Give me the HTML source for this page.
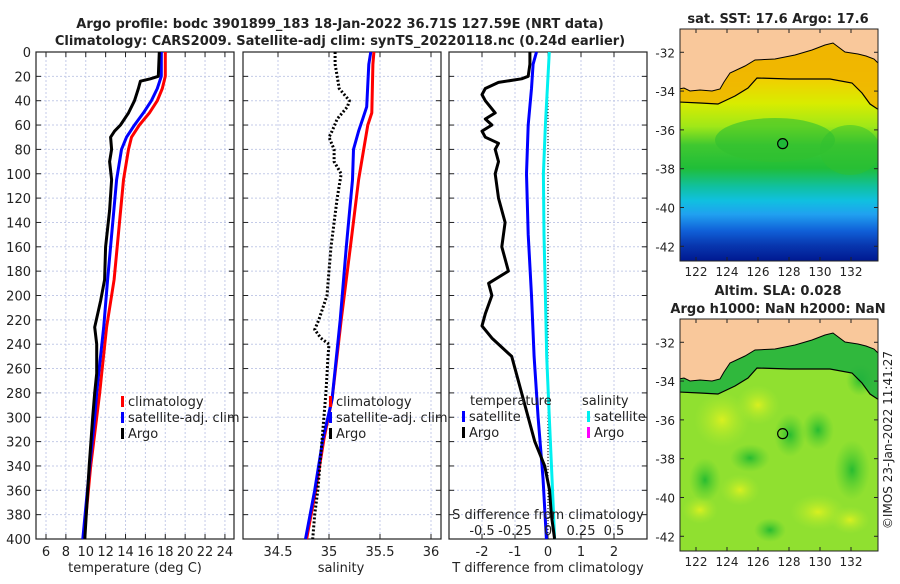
<!DOCTYPE html>
<html><head><meta charset="utf-8">
<style>
html,body{margin:0;padding:0;background:#fff;}
body{width:900px;height:580px;overflow:hidden;font-family:"DejaVu Sans","Liberation Sans",sans-serif;}
svg text{font-family:"DejaVu Sans","Liberation Sans",sans-serif;fill:#222;}
</style></head><body>
<svg id="fig" width="900" height="580" viewBox="0 0 900 580" xmlns="http://www.w3.org/2000/svg">
<defs>
<linearGradient id="sstGrad" x1="0" y1="0" x2="0" y2="1">
<stop offset="0" stop-color="#f2b200"/><stop offset="0.22" stop-color="#f0d000"/><stop offset="0.32" stop-color="#d8ec00"/>
<stop offset="0.42" stop-color="#a0e818"/><stop offset="0.5" stop-color="#40c830"/><stop offset="0.6" stop-color="#20be38"/>
<stop offset="0.68" stop-color="#10c0a0"/><stop offset="0.74" stop-color="#10c0e0"/><stop offset="0.8" stop-color="#20a0f0"/>
<stop offset="0.87" stop-color="#1060d8"/><stop offset="0.93" stop-color="#0838b0"/><stop offset="1" stop-color="#001890"/>
</linearGradient>
<radialGradient id="yb"><stop offset="0" stop-color="#d8f020"/><stop offset="1" stop-color="#a8e830" stop-opacity="0"/></radialGradient>
<radialGradient id="gb"><stop offset="0" stop-color="#28bc30"/><stop offset="1" stop-color="#50cc30" stop-opacity="0"/></radialGradient>
<clipPath id="m1c"><rect x="680" y="29" width="198" height="232"/></clipPath>
<clipPath id="m2c"><rect x="680" y="319" width="198" height="232"/></clipPath>
</defs>
<text x="340" y="28" text-anchor="middle" font-size="13" font-weight="bold">Argo profile: bodc 3901899_183 18-Jan-2022 36.71S 127.59E (NRT data)</text>
<text x="340" y="45" text-anchor="middle" font-size="13" font-weight="bold">Climatology: CARS2009. Satellite-adj clim: synTS_20220118.nc (0.24d earlier)</text>
<g id="p1"></g>
<g id="p2"></g>
<g id="p3"></g>
<g id="maps"></g>
<text transform="translate(892,440) rotate(-90)" text-anchor="middle" font-size="12">©IMOS 23-Jan-2022 11:41:27</text>
</svg>
<script>
// ---- data ----
const tClimDepth=[0,20,30,40,50,60,70,80,105,187,226,264,280,300,340,400];
const tClim=[18.0,18.0,17.7,17.2,16.4,15.4,14.6,14.3,13.8,12.85,12.1,11.6,11.4,11.1,10.5,9.8];
const tSatDepth=[0,20,30,40,50,60,70,80,105,187,226,264,280,300,340,400];
const tSat=[17.6,17.6,17.2,16.6,15.8,14.9,14.1,13.6,13.1,12.2,11.8,11.3,11.1,10.9,10.4,9.7];
const tArgoDepth=[0,10,20,22,24,30,40,50,60,65,70,80,90,105,130,160,187,204,215,226,240,264,280,300,340,400];
const tArgo=[17.4,17.35,17.3,16.5,15.5,15.3,14.9,14.3,13.5,12.9,12.5,12.6,12.4,12.6,12.4,12.0,11.9,11.5,11.2,10.9,11.1,11.1,10.9,10.7,10.35,9.9];
const sClimDepth=[0,10,50,60,80,105,160,220,285,318,360,400];
const sClim=[35.44,35.43,35.42,35.38,35.34,35.29,35.21,35.12,35.03,34.95,34.87,34.78];
const sSatDepth=[0,10,45,55,65,80,105,160,220,285,318,360,400];
const sSat=[35.41,35.39,35.37,35.33,35.29,35.24,35.23,35.17,35.11,35.03,34.94,34.86,34.77];
const sArgoDepth=[0,10,20,30,40,45,55,65,70,80,90,100,120,140,160,180,200,210,220,228,235,240,250,265,280,300,320,340,360,380,400];
const sArgo=[35.06,35.06,35.08,35.1,35.2,35.18,35.08,35.03,35.0,35.05,35.05,35.12,35.08,35.05,35.02,35.0,34.98,34.94,34.9,34.86,34.92,35.0,34.99,34.98,34.97,34.95,34.93,34.91,34.89,34.86,34.84];
const dTArgoDepth=[0,10,20,22,25,30,35,40,50,55,60,65,70,75,80,90,100,120,140,160,180,190,200,215,225,235,250,270,300,320,340,360,380,400];
const dTArgo=[-0.55,-0.55,-0.6,-0.8,-1.5,-1.9,-2.0,-1.9,-1.6,-1.9,-1.7,-2.0,-1.9,-1.5,-1.6,-1.5,-1.6,-1.5,-1.3,-1.4,-1.2,-1.8,-1.7,-1.9,-2.0,-1.7,-1.1,-0.9,-0.6,-0.4,-0.1,0.05,0.1,0.2];
const dTSatDepth=[0,10,30,60,100,150,200,250,300,350,400];
const dTSat=[-0.35,-0.45,-0.5,-0.6,-0.65,-0.6,-0.5,-0.42,-0.3,-0.15,-0.05];
const dSSatDepth=[0,20,60,100,150,200,250,300,350,400];
const dSSat=[0.01,0.0,-0.02,-0.035,-0.03,-0.02,-0.01,0.01,0.03,0.05];
const depthTicks=[0,20,40,60,80,100,120,140,160,180,200,220,240,260,280,300,320,340,360,380,400];
const tTicks=[6,8,10,12,14,16,18,20,22,24];
const sTicks=[34.5,35,35.5,36];
const dTTicks=[-2,-1,0,1,2];
const dSTicks=[-0.5,-0.25,0,0.25,0.5];
const dSTickLabels=["-0.5","-0.25","0","0.25","0.5"];
const latTicks=[-32,-34,-36,-38,-40,-42];
const lonTicks=[122,124,126,128,130,132];

const NS="http://www.w3.org/2000/svg";
function mk(tag,attrs,parent){const e=document.createElementNS(NS,tag);for(const k in attrs)e.setAttribute(k,attrs[k]);parent.appendChild(e);return e;}
const Y0=52,Y1=539;
const yD=d=>Y0+d*(Y1-Y0)/400;
function panel(g,x0,x1,xf,ticks,labels,showY){
  ticks.forEach(t=>{const l=mk('line',{x1:xf(t),x2:xf(t),y1:Y0,y2:Y1,stroke:'#c4cbe8','stroke-width':1,'stroke-dasharray':'2,2'},g);
    
    });
  depthTicks.forEach(d=>{const l=mk('line',{x1:x0,x2:x1,y1:yD(d),y2:yD(d),stroke:'#c4cbe8','stroke-width':1,'stroke-dasharray':'2,2'},g);
    
    
    mk('line',{x1:x0,x2:x0+5,y1:yD(d),y2:yD(d),stroke:'#222'},g);
    mk('line',{x1:x1,x2:x1-5,y1:yD(d),y2:yD(d),stroke:'#222'},g);
    if(showY){const t=mk('text',{x:x0-5,y:yD(d)+5,'text-anchor':'end','font-size':13},g);t.textContent=d;
      
      }
  });
  ticks.forEach((t,i)=>{mk('line',{x1:xf(t),x2:xf(t),y1:Y0,y2:Y0+5,stroke:'#222'},g);mk('line',{x1:xf(t),x2:xf(t),y1:Y1,y2:Y1-5,stroke:'#222'},g);
    if(labels){const tx=mk('text',{x:xf(t),y:Y1+17,'text-anchor':'middle','font-size':13},g);tx.textContent=labels[i];
      
      }});
  const b=mk('rect',{x:x0,y:Y0,width:x1-x0,height:Y1-Y0,fill:'none',stroke:'#222','stroke-width':1.2},g);
  
  
}
function line(g,xs,ds,xf,color,w,dash,name){
  const pts=xs.map((v,i)=>xf(v).toFixed(1)+','+yD(ds[i]).toFixed(1)).join(' ');
  const p=mk('polyline',{points:pts,fill:'none',stroke:color,'stroke-width':w,'stroke-linejoin':'round'},g);
  if(dash)p.setAttribute('stroke-dasharray',dash);
  
  
}
function legend(g,x,y,items){
  items.forEach((it,i)=>{
    if(it.c)mk('rect',{x:x,y:y+i*16-10,width:3,height:11,fill:it.c},g);
    const t=mk('text',{x:x+(it.c?7:0),y:y+i*16,'font-size':13},g);t.textContent=it.t;
    
    });
}
function axisTitle(g,x,y,s){const t=mk('text',{x:x,y:y,'text-anchor':'middle','font-size':13},g);t.textContent=s;
  
  }

// panel 1
const p1=document.getElementById('p1');
const xT=t=>46+(t-6)*9.94;
panel(p1,36,234,xT,tTicks,tTicks.map(String),true);
line(p1,tClim,tClimDepth,xT,'#ff0000',3,null,'temperature-climatology-line');
line(p1,tSat,tSatDepth,xT,'#0000ff',3,null,'temperature-satellite-line');
line(p1,tArgo,tArgoDepth,xT,'#000000',3,null,'temperature-argo-line');
legend(p1,121,406,[{c:'#ff0000',t:'climatology'},{c:'#0000ff',t:'satellite-adj. clim'},{c:'#000',t:'Argo'}]);
axisTitle(p1,135,572,'temperature (deg C)');

// panel 2
const p2=document.getElementById('p2');
const xS=s=>278+(s-34.5)*102;
panel(p2,243,441,xS,sTicks,sTicks.map(String),false);
line(p2,sClim,sClimDepth,xS,'#ff0000',3,null,'salinity-climatology-line');
line(p2,sSat,sSatDepth,xS,'#0000ff',3,null,'salinity-satellite-line');
line(p2,sArgo,sArgoDepth,xS,'#000000',3,'2,2','salinity-argo-line');
legend(p2,329,406,[{c:'#ff0000',t:'climatology'},{c:'#0000ff',t:'satellite-adj. clim'},{c:'#000',t:'Argo'}]);
axisTitle(p2,341,572,'salinity');

// panel 3
const p3=document.getElementById('p3');
const xDT=t=>548+t*33;
const xDS=s=>xDT(s*4);
panel(p3,449,647,xDT,dTTicks,dTTicks.map(String),false);
mk('line',{x1:xDT(0),x2:xDT(0),y1:Y0,y2:Y1,stroke:'#000','stroke-width':1,'stroke-dasharray':'1,2'},p3);
line(p3,dSSat,dSSatDepth,xDS,'#00f0f0',3,null,'salinity-diff-satellite-line');
line(p3,dTSat,dTSatDepth,xDT,'#0000ff',3,null,'temperature-diff-satellite-line');
line(p3,dTArgo,dTArgoDepth,xDT,'#000000',3,null,'temperature-diff-argo-line');
legend(p3,470,405,[{t:'temperature'}]);
legend(p3,462,421,[{c:'#0000ff',t:'satellite'},{c:'#000',t:'Argo'}]);
legend(p3,582,405,[{t:'salinity'}]);
legend(p3,587,421,[{c:'#00f0f0',t:'satellite'},{c:'#ff00ff',t:'Argo'}]);
{const t=mk('text',{x:548,y:519,'text-anchor':'middle','font-size':13},p3);t.textContent='S difference from climatology';
 
 }
dSTicks.forEach((s,i)=>{const t=mk('text',{x:xDS(s),y:535,'text-anchor':'middle','font-size':13},p3);t.textContent=dSTickLabels[i];
 
 });
axisTitle(p3,548,572,'T difference from climatology');

// maps
const mg=document.getElementById('maps');
const lonX=l=>696+(l-122)*15.5;
const coast=[[679,89],[684,88],[690,91],[700,90],[712,91],[720,89],[724,82],[730,73],[745,66],[755,60],[775,59],[795,55],[812,50],[825,45],[833,43],[845,52],[858,54],[866,56],[874,59],[878,63],[879,63]];
const iso=[[679,102],[700,103],[718,104],[735,96],[748,88],[757,78],[790,79],[830,79],[852,83],[862,93],[870,104],[879,110]];
function drawMap(off,top,bot,mainFill,bandFill,name,extra){
  const g=mk('g',{},mg);
  
  
  const cl=mk('g',{'clip-path':'url(#'+(off?'m2c':'m1c')+')'},g);
  mk('rect',{x:680,y:top,width:198,height:bot-top,fill:mainFill},cl);
  if(extra)extra(cl);
  const band='M'+coast.map(p=>p[0]+','+(p[1]+off)).join(' L')+' L'+iso.slice().reverse().map(p=>p[0]+','+(p[1]+off)).join(' L')+' Z';
  mk('path',{d:band,fill:bandFill,opacity:0.85},cl);
  const land='M679,'+(top-2)+' L'+coast.map(p=>p[0]+','+(p[1]+off)).join(' L')+' L879,'+(top-2)+' Z';
  const lp=mk('path',{d:land,fill:'#f9c89b',stroke:'#000','stroke-width':1},cl);
  
  
  const ip=mk('polyline',{points:iso.map(p=>p[0]+','+(p[1]+off)).join(' '),fill:'none',stroke:'#000','stroke-width':1.2},cl);
  
  
  const c=mk('circle',{cx:lonX(127.59),cy:top+(36.71-30.8)*19.4,r:5,fill:off?'none':'#20b838',stroke:'#000','stroke-width':1.2},g);
  
  
  mk('rect',{x:680,y:top,width:198,height:bot-top,fill:'none',stroke:'#222','stroke-width':1},g);
  const latY=lat=>top+(-30.8-lat)*19.4;
  latTicks.forEach(l=>{mk('line',{x1:680,x2:684,y1:latY(l),y2:latY(l),stroke:'#222'},g);mk('line',{x1:878,x2:874,y1:latY(l),y2:latY(l),stroke:'#222'},g);
    const t=mk('text',{x:675,y:latY(l)+5,'text-anchor':'end','font-size':12},g);t.textContent=l;
    
    });
  lonTicks.forEach(l=>{mk('line',{x1:lonX(l),x2:lonX(l),y1:bot,y2:bot-4,stroke:'#222'},g);mk('line',{x1:lonX(l),x2:lonX(l),y1:top,y2:top+4,stroke:'#222'},g);
    const t=mk('text',{x:lonX(l),y:bot+15,'text-anchor':'middle','font-size':12},g);t.textContent=l;
    
    });
}
drawMap(0,29,261,'url(#sstGrad)','#f0b400','sst-map',cl=>{
  mk('ellipse',{cx:775,cy:140,rx:60,ry:22,fill:'#30c030',opacity:0.6},cl);
  mk('ellipse',{cx:850,cy:150,rx:30,ry:25,fill:'#30c030',opacity:0.5},cl);
});
drawMap(290,319,551,'#90e030','#20b040','sla-map',cl=>{
  [[722,420,28,28],[758,405,22,20],[818,512,28,18],[740,490,20,16],[700,510,18,14],[850,520,20,14]].forEach(b=>mk('ellipse',{cx:b[0],cy:b[1],rx:b[2],ry:b[3],fill:'url(#yb)'},cl));
  [[750,458,20,14],[818,430,16,20],[705,480,16,22],[852,470,18,30],[790,435,16,22],[770,530,16,12],[860,380,14,16]].forEach(b=>mk('ellipse',{cx:b[0],cy:b[1],rx:b[2],ry:b[3],fill:'url(#gb)'},cl));
});
[[778,23,'sat. SST: 17.6 Argo: 17.6','sst-map-title'],[778,295,'Altim. SLA: 0.028','sla-title'],[778,313,'Argo h1000: NaN h2000: NaN','sla-map-title']].forEach(a=>{
  const t=mk('text',{x:a[0],y:a[1],'text-anchor':'middle','font-size':13,'font-weight':'bold'},mg);t.textContent=a[2];
  
  });
</script>
</body></html>
